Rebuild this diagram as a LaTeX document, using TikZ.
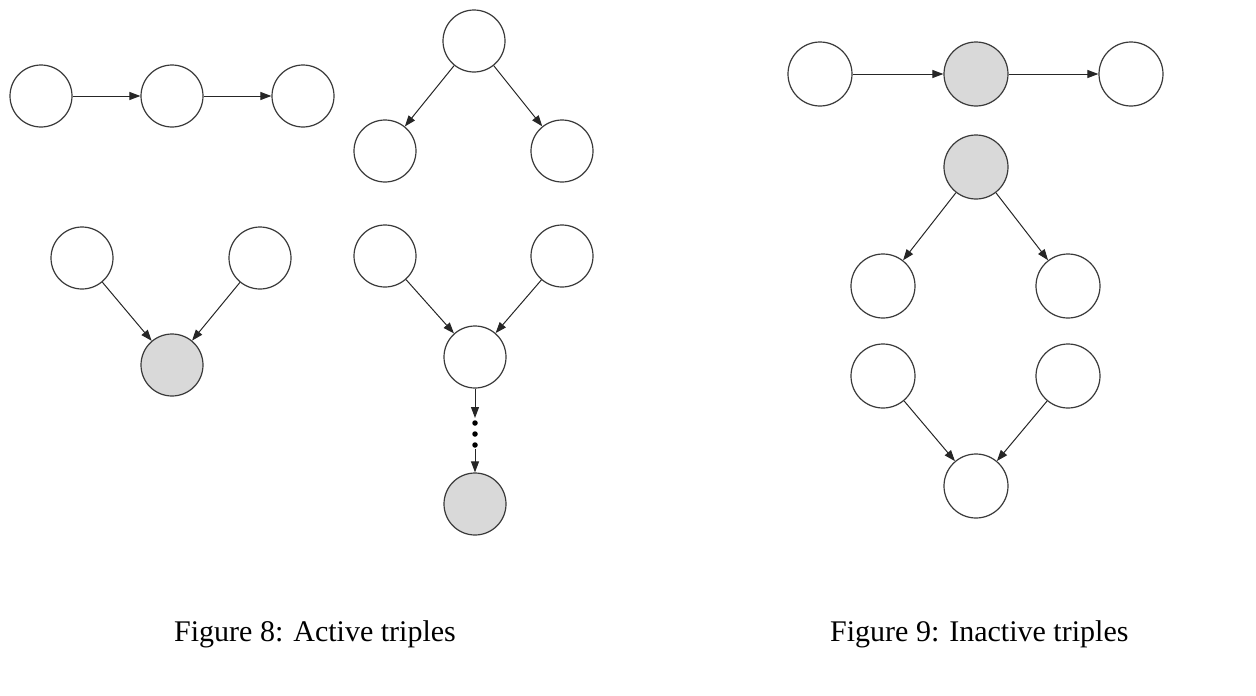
\documentclass[tikz,border=0pt]{standalone}
\usepackage{fontspec}
\setmainfont{Liberation Serif}
\usetikzlibrary{arrows.meta}
\definecolor{edgegray}{HTML}{3A3A3A}
\definecolor{shade}{HTML}{D9D9D9}
\begin{document}
\begin{tikzpicture}[x=1pt,y=-1pt,
  var/.style={circle,draw=edgegray,line width=1.2pt,fill=white,minimum size=62pt,inner sep=0pt},
  obs/.style={var,fill=shade},
  big/.style={var,minimum size=64pt},
  bigobs/.style={big,fill=shade},
  arr/.style={-{Triangle[length=11pt,width=8pt]},line width=1pt,draw=black!85},
  dotn/.style={circle,fill=black,inner sep=0pt,minimum size=5.5pt},
  captext/.style={anchor=base west,font=\fontsize{30}{36}\selectfont,inner sep=0pt}]
\useasboundingbox (0,0) rectangle (1256,696);
% Figure 8: chain
\node[var] (a1) at (41,96) {};
\node[var] (a2) at (172,96) {};
\node[var] (a3) at (303,96) {};
\draw[arr] (a1) -- (a2);
\draw[arr] (a2) -- (a3);
% Figure 8: common cause
\node[var] (b1) at (474,41) {};
\node[var] (b2) at (385,151) {};
\node[var] (b3) at (562,151) {};
\draw[arr] (b1) -- (b2);
\draw[arr] (b1) -- (b3);
% Figure 8: v-structure observed
\node[var] (c1) at (82,258) {};
\node[var] (c2) at (260,258) {};
\node[obs] (c3) at (172,365) {};
\draw[arr] (c1) -- (c3);
\draw[arr] (c2) -- (c3);
% Figure 8: v-structure with observed descendant
\node[var] (d1) at (385,256) {};
\node[var] (d2) at (562,256) {};
\node[var] (d3) at (475,357) {};
\node[obs] (d4) at (475,504) {};
\draw[arr] (d1) -- (d3);
\draw[arr] (d2) -- (d3);
\coordinate (dt1) at (475,418);
\coordinate (dt2) at (475,449);
\node[dotn] (p1) at (475,423) {};
\node[dotn] (p2) at (475,434) {};
\node[dotn] (p3) at (475,445) {};
\draw[arr] (d3) -- (dt1);
\draw[arr] (dt2) -- (d4);
% Figure 9: chain observed
\node[big] (e1) at (820,74) {};
\node[bigobs] (e2) at (976,74) {};
\node[big] (e3) at (1131,74) {};
\draw[arr] (e1) -- (e2);
\draw[arr] (e2) -- (e3);
% Figure 9: common cause observed
\node[bigobs] (f1) at (976,167) {};
\node[big] (f2) at (883,286) {};
\node[big] (f3) at (1068,286) {};
\draw[arr] (f1) -- (f2);
\draw[arr] (f1) -- (f3);
% Figure 9: v-structure unobserved
\node[big] (g1) at (883,376) {};
\node[big] (g2) at (1068,376) {};
\node[big] (g3) at (976,486) {};
\draw[arr] (g1) -- (g3);
\draw[arr] (g2) -- (g3);
% captions
\node[captext] (cap8) at (174,641) {Figure 8: Active triples};
\node[captext] (cap9) at (830,641) {Figure 9: Inactive triples};
\end{tikzpicture}
\end{document}
